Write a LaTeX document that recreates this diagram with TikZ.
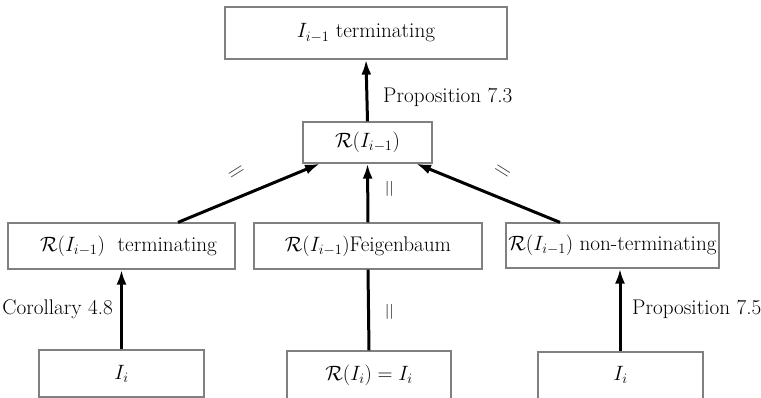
\documentclass[tikz,border=0pt]{standalone}
\usepackage{fontspec}
\usetikzlibrary{arrows.meta}
\begin{document}
\begin{tikzpicture}[x=1pt,y=-1pt,
  box/.style={draw=black!50, line width=1.2pt, fill=white, inner sep=0pt,
    font=\fontsize{21.2}{25}\selectfont},
  conn/.style={line width=3pt, -{Latex[length=15pt,width=10pt]}},
  plainconn/.style={line width=3pt},
  lbl/.style={font=\fontsize{21.2}{25}\selectfont, inner sep=0pt},
  eqs/.style={font=\fontsize{24}{28}\selectfont, text=black!75, inner sep=0pt}]
\useasboundingbox (0,0) rectangle (761,398);
% boxes
\node[box, minimum width=282pt, minimum height=52pt] (top) at (366,33) {$I_{i-1}$ terminating};
\node[box, minimum width=129pt, minimum height=41pt] (r) at (367.5,142.5) {$\mathcal{R}(I_{i-1})$};
\node[box, minimum width=227pt, minimum height=46pt] (lm) at (121.5,246) {\hspace{14pt}$\mathcal{R}(I_{i-1})$\ \ terminating};
\node[box, minimum width=228pt, minimum height=46pt] (mm) at (368,246) {$\mathcal{R}(I_{i-1})$Feigenbaum};
\node[box, minimum width=213pt, minimum height=45pt] (rm) at (612.5,245.5) {$\mathcal{R}(I_{i-1})$ non-terminating};
\node[box, minimum width=165pt, minimum height=47pt] (bl) at (121.5,373.5) {$I_i$};
\node[box, minimum width=164pt, minimum height=50pt] (bm) at (369,376) {\raisebox{6pt}{$\mathcal{R}(I_i)=I_i$}};
\node[box, minimum width=165pt, minimum height=50pt] (br) at (620.5,377) {\raisebox{8pt}{$I_i$}};
% connectors
\draw[conn] (r.north) -- (top.south);
\draw[conn] ([xshift=56.5pt]lm.north) -- ([xshift=-47.5pt]r.south);
\draw[conn] (mm.north) -- (r.south);
\draw[conn] ([xshift=-52.5pt]rm.north) -- ([xshift=48.5pt]r.south);
\draw[plainconn] (bm.north) -- (mm.south);
\draw[conn] (bl.north) -- (lm.south);
\draw[conn] ([xshift=-0.5pt]br.north) -- ([xshift=7.5pt]rm.south);
% labels
\node[lbl, anchor=west] (p73) at (383,97) {Proposition 7.3};
\node[lbl, anchor=east] (c48) at (113,309) {Corollary 4.8};
\node[lbl, anchor=west] (p75) at (632,309) {Proposition 7.5};
\node[eqs, rotate=32] (e1) at (238,173) {=};
\node[eqs, rotate=-32] (e2) at (502,172) {=};
\node[eqs, rotate=90] (e3) at (391,189) {=};
\node[eqs, rotate=90] (e4) at (391,312) {=};
\end{tikzpicture}
\end{document}
